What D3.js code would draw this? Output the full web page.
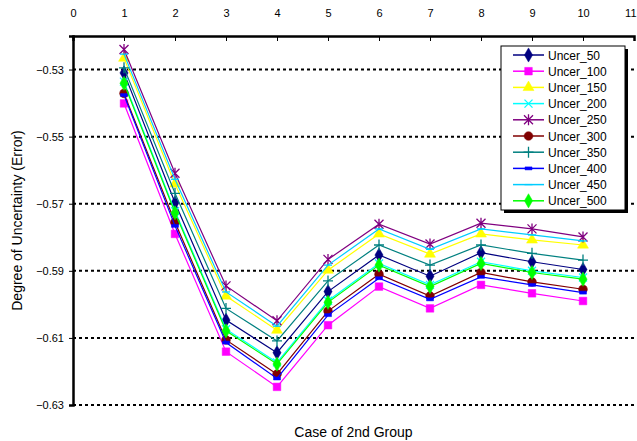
<!DOCTYPE html>
<html>
<head>
<meta charset="utf-8">
<script src="https://cdn.jsdelivr.net/npm/d3@7"></script>
<style>
  body { margin: 0; background: #fff; }
  svg { font-family: "Liberation Sans", Arial, sans-serif; }
</style>
</head>
<body>
<div id="chart"></div>
<script>
// case numbers on the x axis
var CASES = [1, 2, 3, 4, 5, 6, 7, 8, 9, 10];
var X_TICKS = [0, 1, 2, 3, 4, 5, 6, 7, 8, 9, 10, 11];
var Y_TICKS = [-0.63, -0.61, -0.59, -0.57, -0.55, -0.53];

// values
var UNCER_50  = [-0.5310, -0.5697, -0.6047, -0.6144, -0.5962, -0.5853, -0.5916, -0.5846, -0.5873, -0.5896];
var UNCER_100 = [-0.5401, -0.5790, -0.6141, -0.6246, -0.6062, -0.5947, -0.6012, -0.5942, -0.5967, -0.5990];
var UNCER_150 = [-0.5266, -0.5641, -0.5975, -0.6077, -0.5898, -0.5790, -0.5850, -0.5790, -0.5808, -0.5823];
var UNCER_200 = [-0.5336, -0.5722, -0.6074, -0.6173, -0.5989, -0.5878, -0.5942, -0.5873, -0.5900, -0.5920];
var UNCER_250 = [-0.5240, -0.5609, -0.5945, -0.6049, -0.5866, -0.5761, -0.5820, -0.5758, -0.5775, -0.5799];
var UNCER_300 = [-0.5371, -0.5755, -0.6106, -0.6208, -0.6020, -0.5910, -0.5975, -0.5905, -0.5933, -0.5955];
var UNCER_350 = [-0.5295, -0.5669, -0.6012, -0.6109, -0.5930, -0.5823, -0.5883, -0.5823, -0.5848, -0.5868];
var UNCER_400 = [-0.5376, -0.5766, -0.6114, -0.6221, -0.6032, -0.5922, -0.5985, -0.5918, -0.5942, -0.5965];
var UNCER_450 = [-0.5254, -0.5627, -0.5963, -0.6065, -0.5883, -0.5775, -0.5836, -0.5775, -0.5793, -0.5811];
var UNCER_500 = [-0.5341, -0.5727, -0.6079, -0.6178, -0.5994, -0.5883, -0.5947, -0.5878, -0.5905, -0.5925];

var NAMES = ["Uncer_50", "Uncer_100", "Uncer_150", "Uncer_200", "Uncer_250",
             "Uncer_300", "Uncer_350", "Uncer_400", "Uncer_450", "Uncer_500"];
var VALUES = [UNCER_50, UNCER_100, UNCER_150, UNCER_200, UNCER_250,
              UNCER_300, UNCER_350, UNCER_400, UNCER_450, UNCER_500];
var COLORS = ["#000080", "#FF00FF", "#FFFF00", "#00FFFF", "#800080",
              "#800000", "#008080", "#0000FF", "#00CCFF", "#00FF00"];
var MARKERS = ["diamond", "square", "triangle", "x", "star",
               "circle", "plus", "dash", "line", "diamond"];

var W = 637, H = 441;
var margin = {top: 36, right: 3, bottom: 36, left: 73};
var width = W - margin.left - margin.right,
    height = H - margin.top - margin.bottom;

var x = d3.scaleLinear().domain([0, 11]).range([0, width]);
var y = d3.scaleLinear().domain([-0.63, -0.52]).range([height, 0]);

var svg = d3.select("#chart").append("svg")
    .attr("width", W).attr("height", H);
var g = svg.append("g")
    .attr("transform", "translate(" + margin.left + "," + margin.top + ")");

// dotted gridlines
g.append("g").selectAll("line")
    .data(Y_TICKS)
    .enter().append("line")
    .attr("x1", 0).attr("x2", width)
    .attr("y1", function(d) { return y(d); })
    .attr("y2", function(d) { return y(d); })
    .attr("stroke", "#000").attr("stroke-width", 2)
    .attr("stroke-dasharray", "3,3");

// top axis
var xAxis = g.append("g")
    .call(d3.axisTop(x).tickValues(X_TICKS).tickSize(-5).tickPadding(19).tickFormat(d3.format("d")));
xAxis.select(".domain").attr("stroke-width", 2.5);
xAxis.selectAll(".tick line").attr("stroke-width", 1);
xAxis.selectAll("text").style("font-size", "11px").attr("fill", "#000");
// last label sits against the right edge
xAxis.selectAll("text").filter(function(d) { return d == 11; }).attr("text-anchor", "end").attr("dx", 2);

// left axis
var yAxis = g.append("g")
    .call(d3.axisLeft(y).tickValues(Y_TICKS).tickSize(4).tickPadding(5).tickFormat(d3.format(".2f")));
yAxis.select(".domain").attr("stroke-width", 2.5);
yAxis.selectAll("text").style("font-size", "11px").attr("fill", "#000");

// lines + markers
var line = d3.line()
    .x(function(d, i) { return x(CASES[i]); })
    .y(function(d) { return y(d); });

function markerPath(type) {
    if (type == "diamond") return d3.symbol().type(d3.symbolDiamond).size(58)();
    if (type == "square") return d3.symbol().type(d3.symbolSquare).size(58)();
    if (type == "triangle") return d3.symbol().type(d3.symbolTriangle).size(52)();
    if (type == "circle") return d3.symbol().type(d3.symbolCircle).size(60)();
    if (type == "x") return "M-4,-4L4,4M-4,4L4,-4";
    if (type == "star") return "M-4.5,-4.5L4.5,4.5M-4.5,4.5L4.5,-4.5M0,-5.5L0,5.5";
    if (type == "plus") return "M-5,0L5,0M0,-5.5L0,5.5";
    if (type == "dash") return "M-3.5,-1.5H3.5V1.5H-3.5Z";
    return "M-4,0H4";
}
var OPEN = {x: 1, star: 1, plus: 1, line: 1};

VALUES.forEach(function(vals, k) {
    g.append("path")
        .datum(vals)
        .attr("d", line)
        .attr("fill", "none")
        .attr("stroke", COLORS[k])
        .attr("stroke-width", 1.2);
    g.selectAll(".m" + k)
        .data(vals)
        .enter().append("path")
        .attr("class", "m" + k)
        .attr("transform", function(d, i) { return "translate(" + x(CASES[i]) + "," + y(d) + ")"; })
        .attr("d", markerPath(MARKERS[k]))
        .attr("fill", OPEN[MARKERS[k]] ? "none" : COLORS[k])
        .attr("stroke", COLORS[k])
        .attr("stroke-width", OPEN[MARKERS[k]] ? 1.3 : 0.5);
});

// legend with shadow
var lg = svg.append("g").attr("transform", "translate(501,46)");
lg.append("rect").attr("x", 3).attr("y", 3).attr("width", 124).attr("height", 164).attr("fill", "#000");
lg.append("rect").attr("x", 0).attr("y", 0).attr("width", 124).attr("height", 164)
    .attr("fill", "#fff").attr("stroke", "#000").attr("stroke-width", 1);
NAMES.forEach(function(name, k) {
    var yy = 9 + k * 16.2;
    lg.append("line").attr("x1", 12).attr("x2", 43).attr("y1", yy).attr("y2", yy)
        .attr("stroke", COLORS[k]).attr("stroke-width", 1.5);
    lg.append("path").attr("transform", "translate(27.5," + yy + ")")
        .attr("d", markerPath(MARKERS[k]))
        .attr("fill", OPEN[MARKERS[k]] ? "none" : COLORS[k])
        .attr("stroke", COLORS[k])
        .attr("stroke-width", OPEN[MARKERS[k]] ? 1.3 : 0.5);
    lg.append("text").attr("x", 47).attr("y", yy + 4.5)
        .text(name).style("font-size", "12px").attr("fill", "#000");
});

// axis titles
svg.append("text")
    .attr("transform", "translate(22," + (margin.top + height / 2) + ") rotate(-90)")
    .attr("text-anchor", "middle")
    .style("font-size", "14px")
    .text("Degree of Uncertainty (Error)");
svg.append("text")
    .attr("x", margin.left + width / 2).attr("y", 437)
    .attr("text-anchor", "middle")
    .style("font-size", "14px")
    .text("Case of 2nd Group");
</script>
</body>
</html>
